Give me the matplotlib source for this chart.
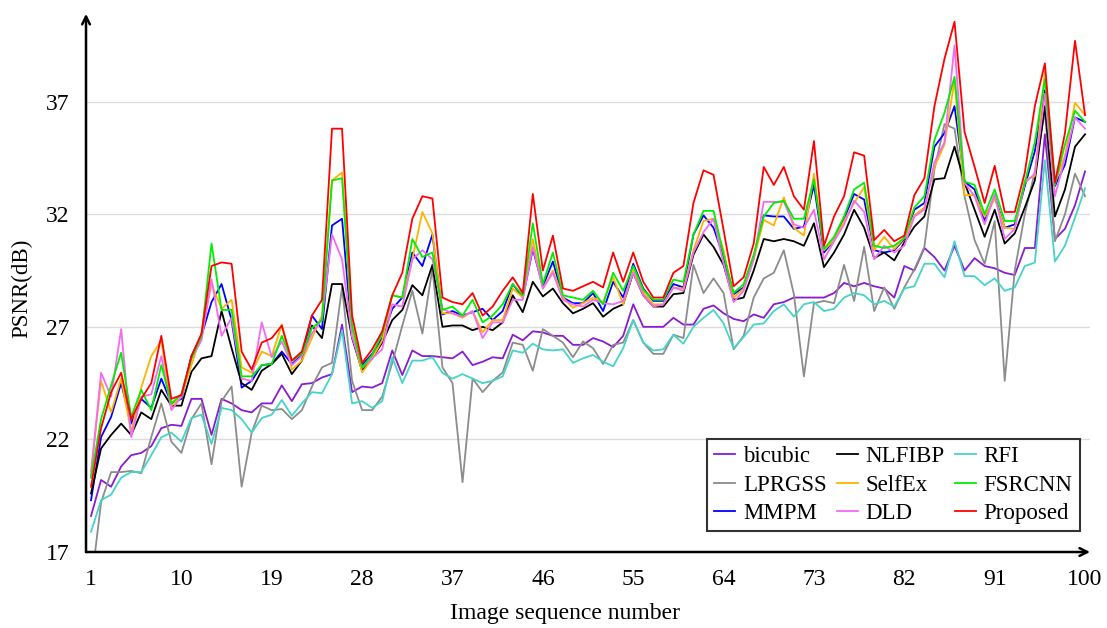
import numpy as np
import matplotlib
matplotlib.use("Agg")
import matplotlib.pyplot as plt

plt.rcParams['font.family'] = ['Liberation Serif', 'DejaVu Serif']

# image index 1..100
seq = np.arange(1, 101)

bicubic = [18.6, 20.2, 19.9, 20.8, 21.3, 21.4, 21.7, 22.5, 22.65, 22.6, 23.8, 23.8, 22.2, 23.8, 23.6, 23.3, 23.2, 23.6,
           23.6, 24.4, 23.7, 24.45, 24.5, 24.75, 24.9, 27.1, 24.1, 24.35, 24.3, 24.5, 25.95, 24.86, 25.95, 25.7, 25.7,
           25.65, 25.6, 25.9, 25.3, 25.45, 25.65, 25.6, 26.65, 26.4, 26.8, 26.75, 26.6, 26.6, 26.2, 26.2, 26.5, 26.35,
           26.1, 26.6, 28.0, 27.0, 27.0, 27.0, 27.4, 27.1, 27.1, 27.8, 27.95, 27.6, 27.35, 27.25, 27.55, 27.4, 28.0,
           28.1, 28.3, 28.3, 28.3, 28.3, 28.5, 28.95, 28.8, 28.95, 28.8, 28.7, 28.3, 29.7, 29.5, 30.5, 30.1, 29.5,
           30.6, 29.5, 30.05, 29.7, 29.6, 29.4, 29.3, 30.5, 30.5, 35.55, 30.9, 31.35, 32.4, 33.9]

lprgss = [15.5, 19.2, 20.55, 20.55, 20.6, 20.5, 22.1, 23.6, 21.9, 21.4, 22.9, 23.6, 20.9, 23.7, 24.35, 19.9, 22.3, 23.5,
          23.3, 23.35, 22.9, 23.3, 24.35, 25.2, 25.4, 28.75, 24.6, 23.3, 23.3, 23.9, 25.4, 27.05, 28.6, 26.7, 29.6,
          25.2, 24.5, 20.1, 24.7, 24.1, 24.6, 24.97, 26.3, 26.2, 25.05, 26.9, 26.6, 26.3, 25.65, 26.35, 26.05, 25.35,
          26.2, 26.3, 27.3, 26.3, 25.8, 25.8, 26.65, 26.5, 29.75, 28.5, 29.15, 28.5, 26.0, 26.6, 28.3, 29.15, 29.4,
          30.4, 28.45, 24.8, 28.05, 28.15, 28.05, 29.75, 28.15, 30.55, 27.7, 28.75, 27.8, 28.75, 29.55, 30.55, 34.0, 36.0,
          35.8, 32.8, 30.85, 29.8, 31.7, 24.6, 29.5, 32.0, 33.9, 36.6, 30.8, 32.0, 33.8, 32.8]

mmpm = [19.3, 22.1, 23.0, 24.5, 22.7, 23.8, 23.4, 24.7, 23.6, 23.8, 25.7, 26.6, 28.1, 28.9, 27.3, 24.3, 24.6, 25.3,
        25.35, 25.9, 25.35, 25.75, 27.5, 26.9, 31.5, 31.8, 26.6, 25.3, 25.8, 26.5, 27.8, 28.3, 30.3, 29.7, 31.1,
        27.55, 27.7, 27.5, 27.65, 27.8, 27.3, 27.7, 28.9, 28.3, 30.45, 28.8, 29.9, 28.3, 28.05, 28.05, 28.5, 27.7,
        29.0, 28.3, 29.8, 28.7, 28.15, 28.15, 28.9, 28.75, 31.1, 31.95, 31.4, 30.1, 28.45, 28.75, 30.1, 31.95, 31.9,
        31.9, 31.35, 31.45, 33.3, 30.3, 30.85, 31.8, 32.9, 32.65, 30.4, 30.3, 30.4, 30.9, 32.2, 32.5, 35.0, 35.6,
        36.8, 33.45, 33.1, 31.7, 32.8, 31.4, 31.55, 33.25, 34.8, 37.5, 33.25, 34.2, 36.3, 36.1]

nlfibp = [19.6, 21.6, 22.2, 22.7, 22.2, 23.2, 22.9, 24.2, 23.5, 23.5, 25.0, 25.6, 25.7, 27.7, 26.05, 24.5, 24.2, 25.05,
          25.35, 25.8, 24.9, 25.5, 27.06, 26.5, 28.9, 28.9, 26.5, 25.05, 25.6, 26.3, 27.3, 27.75, 28.85, 28.4, 29.75,
          27.0, 27.06, 27.06, 26.85, 27.0, 26.85, 27.2, 28.4, 27.65, 29.0, 28.35, 28.7, 28.05, 27.6, 27.8, 28.05, 27.45,
          27.8, 28.0, 29.4, 28.4, 27.9, 27.9, 28.45, 28.5, 30.2, 31.1, 30.55, 29.75, 28.2, 28.3, 29.5, 30.9, 30.8,
          30.9, 30.8, 30.6, 31.6, 29.65, 30.3, 31.1, 32.2, 31.4, 30.05, 30.3, 29.95, 30.75, 31.45, 31.9, 33.55, 33.6,
          35.0, 33.4, 32.2, 31.0, 32.2, 30.7, 31.15, 32.3, 33.5, 36.8, 31.9, 33.1, 35.0, 35.55]

selfex = [20.6, 24.6, 23.2, 24.7, 22.3, 24.3, 25.7, 26.4, 23.5, 23.9, 25.3, 26.7, 28.9, 27.8, 28.2, 25.2, 24.96, 25.9,
          25.7, 27.1, 25.1, 25.5, 26.5, 27.5, 33.5, 33.85, 26.7, 24.97, 25.6, 26.4, 28.4, 28.3, 30.0, 32.1, 31.15,
          27.6, 27.6, 27.4, 27.7, 26.75, 27.3, 27.3, 28.7, 28.3, 30.9, 28.7, 29.5, 28.3, 27.85, 28.05, 28.3, 28.1,
          29.2, 28.0, 29.5, 28.55, 28.0, 28.0, 28.75, 28.7, 30.4, 31.7, 31.8, 30.4, 28.3, 28.7, 30.0, 31.75, 31.5,
          32.75, 31.4, 31.05, 33.8, 30.4, 30.85, 31.7, 32.5, 33.2, 30.4, 31.0, 30.45, 30.95, 31.95, 32.3, 34.1, 35.1,
          37.95, 32.85, 32.85, 31.9, 32.7, 31.4, 31.35, 33.5, 33.7, 38.35, 33.4, 34.6, 36.95, 36.4]

dld = [20.4, 24.96, 23.9, 26.9, 22.1, 23.9, 24.0, 25.7, 23.3, 23.9, 25.6, 26.4, 29.1, 26.6, 27.4, 24.7, 24.6, 27.2,
       25.65, 26.35, 25.3, 25.7, 26.7, 27.35, 31.1, 30.0, 26.55, 25.2, 25.6, 26.0, 28.0, 27.9, 30.0, 30.4, 30.0,
       27.8, 27.6, 27.45, 27.7, 26.5, 27.2, 27.2, 28.2, 28.2, 30.55, 28.7, 29.4, 28.2, 28.0, 27.9, 28.2, 28.05,
       28.0, 28.15, 29.4, 28.4, 27.9, 28.0, 28.75, 28.6, 30.3, 31.2, 31.8, 29.8, 28.1, 28.6, 30.0, 32.55, 32.55,
       32.55, 31.55, 31.4, 32.2, 30.0, 30.8, 31.55, 32.6, 32.1, 30.0, 30.6, 30.3, 30.6, 31.9, 32.2, 34.3, 35.2,
       39.5, 33.4, 32.8, 31.55, 32.9, 30.9, 31.35, 33.4, 33.8, 37.35, 32.8, 34.5, 36.3, 35.8]

rfi = [17.9, 19.3, 19.55, 20.3, 20.55, 20.55, 21.3, 22.1, 22.3, 21.9, 22.95, 23.1, 21.8, 23.4, 23.3, 22.9, 22.3, 22.95,
       23.1, 23.75, 23.05, 23.6, 24.1, 24.05, 24.9, 26.85, 23.6, 23.7, 23.4, 23.7, 25.65, 24.5, 25.5, 25.5, 25.65,
       24.95, 24.7, 24.9, 24.7, 24.5, 24.6, 24.8, 25.95, 25.85, 26.25, 26.0, 25.95, 26.0, 25.4, 25.6, 25.75, 25.45,
       25.25, 26.05, 27.3, 26.3, 25.95, 26.0, 26.65, 26.25, 27.0, 27.4, 27.75, 27.15, 26.05, 26.55, 27.1, 27.15, 27.7,
       28.0, 27.45, 28.0, 28.1, 27.7, 27.8, 28.3, 28.5, 28.4, 28.0, 28.15, 27.9, 28.7, 28.8, 29.8, 29.8, 29.2,
       30.8, 29.25, 29.25, 28.85, 29.15, 28.6, 28.75, 29.7, 29.85, 34.4, 29.9, 30.6, 31.85, 33.15]

fsrcnn = [20.3, 22.9, 24.4, 25.85, 23.0, 24.2, 23.3, 25.3, 23.6, 24.0, 25.6, 26.6, 30.7, 27.75, 27.75, 24.8, 24.8, 25.3,
          25.35, 26.6, 25.5, 25.8, 26.95, 27.3, 33.5, 33.6, 27.06, 25.2, 25.75, 26.7, 28.4, 28.3, 30.9, 30.1, 30.3,
          27.75, 27.9, 27.5, 28.2, 27.2, 27.5, 28.0, 28.9, 28.4, 31.6, 28.9, 30.3, 28.4, 28.3, 28.2, 28.6, 28.0,
          29.4, 28.6, 29.7, 28.65, 28.2, 28.2, 29.1, 29.0, 31.1, 32.15, 32.15, 30.2, 28.5, 28.9, 30.2, 31.9, 32.5,
          32.6, 31.8, 31.8, 33.55, 30.45, 31.0, 31.9, 33.1, 33.4, 30.6, 30.5, 30.6, 30.95, 32.3, 32.8, 35.3, 36.5,
          38.1, 33.45, 33.3, 32.0, 33.1, 31.7, 31.7, 33.4, 35.2, 38.0, 33.3, 35.1, 36.6, 36.1]

proposed = [19.9, 22.5, 24.1, 24.96, 22.9, 23.8, 24.5, 26.6, 23.8, 23.97, 25.7, 26.7, 29.7, 29.86, 29.8, 25.9, 25.1, 26.3,
            26.5, 27.06, 25.5, 25.9, 27.5, 28.2, 35.8, 35.8, 27.5, 25.4, 26.0, 26.8, 28.4, 29.4, 31.8, 32.8, 32.7,
            28.3, 28.1, 28.0, 28.5, 27.5, 27.9, 28.6, 29.2, 28.5, 32.9, 29.5, 31.05, 28.7, 28.6, 28.8, 29.0, 28.75,
            30.3, 29.0, 30.3, 29.0, 28.3, 28.3, 29.4, 29.7, 32.5, 33.95, 33.75, 31.3, 28.8, 29.2, 30.7, 34.1, 33.3,
            34.1, 32.8, 32.2, 35.25, 30.6, 31.9, 32.8, 34.75, 34.6, 30.85, 31.3, 30.8, 31.05, 32.85, 33.6, 36.8, 38.9,
            40.55, 35.65, 34.1, 32.5, 34.15, 32.1, 32.1, 33.85, 36.8, 38.7, 33.4, 35.6, 39.7, 36.4]

methods = ['bicubic', 'LPRGSS', 'MMPM', 'NLFIBP', 'SelfEx', 'DLD', 'RFI', 'FSRCNN', 'Proposed']
series = [bicubic, lprgss, mmpm, nlfibp, selfex, dld, rfi, fsrcnn, proposed]
colors = ['#8A1BD0', '#8C8C8C', '#0000FF', '#000000', '#FFB300', '#F26BF2', '#45D4C8', '#00EE00', '#FF0000']

xticks = [1, 10, 19, 28, 37, 46, 55, 64, 73, 82, 91, 100]
yticks = [17, 22, 27, 32, 37]

fig = plt.figure(figsize=(11.07, 6.28), dpi=100)
ax = fig.add_axes([0.0777, 0.121, 0.907, 0.857])

for name, vals, c in zip(methods, series, colors):
    ax.plot(seq, vals, color=c, lw=1.3, label=name)

ax.set_xlim(0.5, 100.5)
ax.set_ylim(17, 40.9)
ax.set_xticks(xticks)
ax.set_yticks(yticks)
ax.tick_params(length=0, labelsize=17)
ax.tick_params(axis='x', pad=12)
ax.tick_params(axis='y', pad=12)

# light horizontal grid, no line at 17 (that is the axis)
for yv in yticks[1:]:
    ax.axhline(yv, color='#DCDCDC', lw=1.0, zorder=0)

for s in ax.spines.values():
    s.set_visible(False)

# axes drawn as arrows
ax.annotate('', xy=(1.0, 0), xytext=(0, 0), xycoords='axes fraction',
            arrowprops=dict(arrowstyle='->', lw=1.8, color='black', mutation_scale=14,
                            shrinkA=0, shrinkB=0), annotation_clip=False)
ax.annotate('', xy=(0, 1.0), xytext=(0, 0), xycoords='axes fraction',
            arrowprops=dict(arrowstyle='->', lw=1.8, color='black', mutation_scale=14,
                            shrinkA=0, shrinkB=0), annotation_clip=False)

ax.set_xlabel('Image sequence number', fontsize=17)
ax.xaxis.set_label_coords(0.477, -0.095)
ax.set_ylabel('PSNR(dB)', fontsize=16.5)
ax.yaxis.set_label_coords(-0.053, 0.49)

leg = ax.legend(ncol=3, loc='lower right', bbox_to_anchor=(0.9895, 0.039),
                fontsize=16.5, frameon=True, fancybox=False, edgecolor='black',
                handlelength=0.9, handletextpad=0.35, columnspacing=0.45,
                labelspacing=0.33, borderpad=0.3, borderaxespad=0)
leg.get_frame().set_linewidth(1.5)
for h in leg.get_lines():
    h.set_linewidth(1.3)

fig.savefig('out.png', dpi=100)
